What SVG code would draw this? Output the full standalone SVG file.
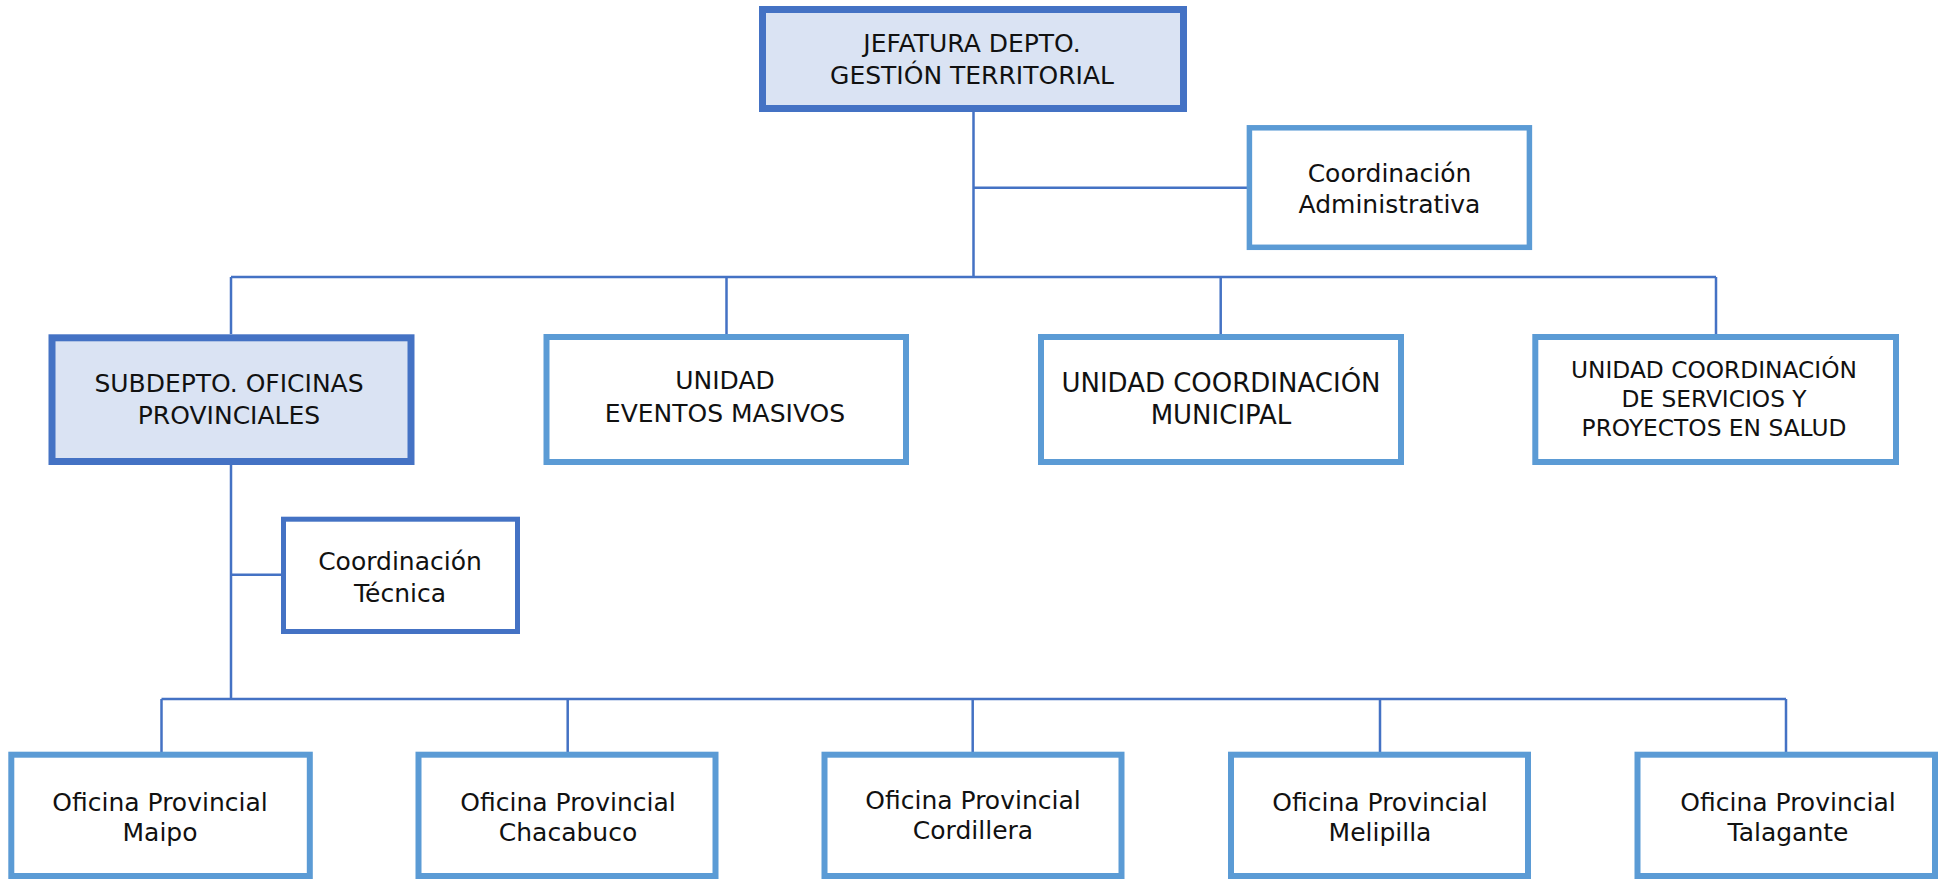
<svg xmlns="http://www.w3.org/2000/svg" width="1948" height="879" viewBox="0 0 1948 879">
<style>
.dk{fill:#DAE3F3;stroke:#4472C4;stroke-width:7}
.dk2{fill:#FFFFFF;stroke:#4472C4;stroke-width:5}
.lt{fill:#FFFFFF;stroke:#5B9BD5;stroke-width:6}
.lt2{fill:#FFFFFF;stroke:#5B9BD5;stroke-width:5.5}
.c{fill:none;stroke:#4472C4;stroke-width:2.5}
text{font-family:"DejaVu Sans","Liberation Sans",sans-serif;font-size:25px;fill:#111;text-anchor:middle}
</style>
<rect width="1948" height="879" fill="#FFFFFF"/>
<g id="connectors">
<path class="c" d="M973.5 112V277M973.5 187.7H1247M231 277H1716M231 277V334M726.5 277V334M1220.7 277V334M1716 277V334M231 465V699M231 574.7H281M161.5 699H1786M161.5 699V752M567.7 699V752M972.7 699V752M1380 699V752M1786 699V752"/>
</g>
<g id="jefatura">
<rect class="dk" x="762.5" y="9.5" width="421" height="99"/>
<text x="972" y="52">JEFATURA DEPTO.</text>
<text x="972" y="83.5">GESTIÓN TERRITORIAL</text>
</g>
<g id="coord-admin">
<rect class="lt2" x="1249.4" y="127.8" width="280" height="119.5"/>
<text x="1389.5" y="181.7">Coordinación</text>
<text x="1389.5" y="213.3">Administrativa</text>
</g>
<g id="subdepto">
<rect class="dk" x="52" y="337.8" width="359" height="123.7"/>
<text x="229" y="391.7">SUBDEPTO. OFICINAS</text>
<text x="229" y="424">PROVINCIALES</text>
</g>
<g id="eventos">
<rect class="lt" x="546.5" y="337" width="359.5" height="125"/>
<text x="725" y="389.3">UNIDAD</text>
<text x="725" y="422">EVENTOS MASIVOS</text>
</g>
<g id="municipal">
<rect class="lt" x="1041" y="337" width="360" height="125"/>
<text x="1221" y="391.7" style="font-size:26px">UNIDAD COORDINACIÓN</text>
<text x="1221" y="424.3" style="font-size:26px">MUNICIPAL</text>
</g>
<g id="salud">
<rect class="lt" x="1535.3" y="337" width="360.7" height="125"/>
<text x="1714" y="378.3" style="font-size:23.3px">UNIDAD COORDINACIÓN</text>
<text x="1714" y="406.7" style="font-size:23.3px">DE SERVICIOS Y</text>
<text x="1714" y="436" style="font-size:23.3px">PROYECTOS EN SALUD</text>
</g>
<g id="coord-tecnica">
<rect class="dk2" x="283.5" y="519.2" width="234" height="112.3"/>
<text x="400" y="570">Coordinación</text>
<text x="400" y="601.7">Técnica</text>
</g>
<g id="maipo">
<rect class="lt" x="11.3" y="754.7" width="298.5" height="121.3"/>
<text x="160" y="810.7">Oficina Provincial</text>
<text x="160" y="841">Maipo</text>
</g>
<g id="chacabuco">
<rect class="lt" x="418.5" y="754.7" width="297" height="121.3"/>
<text x="568" y="810.7">Oficina Provincial</text>
<text x="568" y="841">Chacabuco</text>
</g>
<g id="cordillera">
<rect class="lt" x="824.5" y="754.7" width="297" height="121.3"/>
<text x="973" y="808.5">Oficina Provincial</text>
<text x="973" y="839">Cordillera</text>
</g>
<g id="melipilla">
<rect class="lt" x="1231" y="754.7" width="297" height="121.3"/>
<text x="1380" y="810.7">Oficina Provincial</text>
<text x="1380" y="841">Melipilla</text>
</g>
<g id="talagante">
<rect class="lt" x="1637.5" y="754.7" width="297.5" height="121.3"/>
<text x="1788" y="810.7">Oficina Provincial</text>
<text x="1788" y="841">Talagante</text>
</g>
</svg>
